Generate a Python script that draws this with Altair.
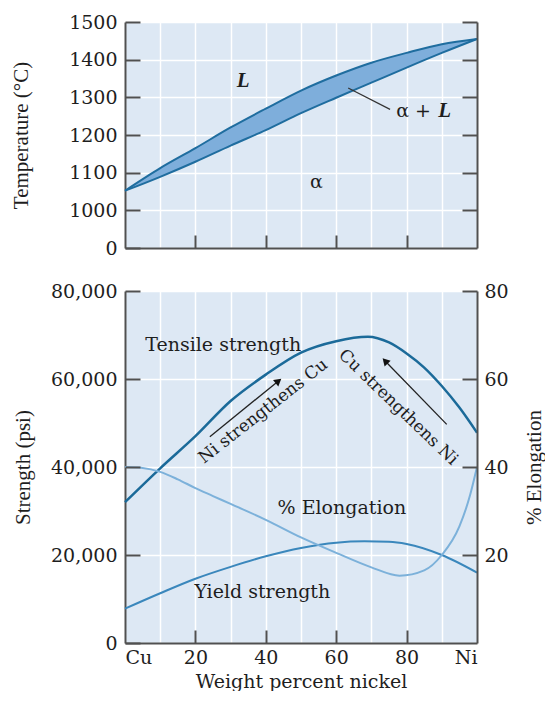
import altair as alt
import pandas as pd

# ---------------- data ----------------
# Top panel: Cu-Ni phase diagram
ni_top = [0, 10, 20, 30, 40, 50, 60, 70, 80, 90, 100]
liquidus = [1052, 1112, 1165, 1220, 1270, 1318, 1358, 1392, 1418, 1441, 1455]
solidus = [1052, 1089, 1129, 1172, 1213, 1258, 1299, 1339, 1379, 1418, 1455]

# Bottom panel: mechanical properties
tens_ni = [0, 10, 20, 30, 40, 50, 60, 69, 75, 80, 85, 90, 95, 100]
tensile = [32000, 39700, 47000, 55000, 61000, 66000, 68600, 69600, 68300, 65800, 62600, 58400, 53500, 47800]

yield_ni = [0, 10, 20, 30, 40, 50, 60, 68, 75, 80, 90, 100]
yield_str = [7800, 11300, 14600, 17300, 19700, 21600, 22800, 23100, 23000, 22500, 20000, 16000]

elong_ni = [0, 5, 10, 15, 20, 25, 30, 40, 50, 60, 70, 78, 85, 90, 95, 98, 100]
elong = [40, 39.8, 38.9, 37.2, 35.2, 33.4, 31.6, 28, 24, 20.5, 17.2, 15.3, 16.5, 20, 26.5, 33.5, 40]

# axis values
grid_x = [0, 10, 20, 30, 40, 50, 60, 70, 80, 90, 100]
tick_x = [20, 40, 60, 80]
label_x = [0, 20, 40, 60, 80, 100]
temp_vals = [900, 1000, 1100, 1200, 1300, 1400, 1500]
str_vals = [0, 20000, 40000, 60000, 80000]
el_vals = [20, 40, 60, 80]

# annotations (top)
top_txt = ["\u03b1", "\u03b1 +"]
top_txt_x = [54.4, 82.0]
top_txt_y = [1074, 1263]
top_it = ["L", "L"]
top_it_x = [33.6, 90.8]
top_it_y = [1343, 1263]
leader_x = [63.4, 75.3]
leader_y = [1325, 1268]

# annotations (bottom)
bot_txt = ["Tensile strength", "% Elongation", "Yield strength"]
bot_txt_x = [27.9, 61.6, 39.0]
bot_txt_y = [67700, 30700, 11700]
rot_txt = ["Ni strengthens Cu", "Cu strengthens Ni"]
rot_x = [39.3, 77.6]
rot_y = [52650, 53560]
rot_angle = [322, 44]
arr_x0 = [24.1, 91.4]
arr_y0 = [46900, 49690]
arr_x1 = [43.6, 73.9]
arr_y1 = [59560, 64100]
arr_angle = [51, 316]

# ---------------- styles ----------------
AX = "#505050"
LBL = "#1e1e1e"
BG = "#dde8f4"
LENS = "#7eaedb"
EDGE = "#1f6d9f"
C_TENS = "#1b6a99"
C_EL = "#7cb1da"
C_YLD = "#3a87bc"
SERIF = "DejaVu Serif"
TSERIF = "Liberation Serif"


def xs():
    return alt.Scale(domain=[0, 100], nice=False, zero=False)


def ys_top():
    return alt.Scale(domain=[900, 1500], nice=False, zero=False)


def ys_str():
    return alt.Scale(domain=[0, 80000], nice=False, zero=False)


def ys_el():
    return alt.Scale(domain=[0, 80], nice=False, zero=False)


def white_grid_axis(orient, values):
    return alt.Axis(orient=orient, values=values, grid=True, gridColor="white",
                    gridWidth=1.5, gridOpacity=1, labels=False, ticks=False,
                    domain=True, domainColor=AX, domainWidth=2, title=None)


def tick_axis(orient, values, length, domain=False, **kw):
    return alt.Axis(orient=orient, values=values, grid=True, gridColor=AX,
                    gridWidth=2, gridDash=[length, 2000], gridOpacity=1,
                    ticks=False, domain=domain, domainColor=AX, domainWidth=2,
                    zindex=1, **kw)


# ---------------- top panel ----------------
df_top = pd.DataFrame({"ni": ni_top, "liq": liquidus, "sol": solidus})
base_top = alt.Chart(df_top)

lens = base_top.mark_area(color=LENS, opacity=1, interpolate="monotone").encode(
    x=alt.X("ni:Q", scale=xs(), axis=white_grid_axis("bottom", grid_x)),
    y=alt.Y("liq:Q", scale=ys_top(), axis=white_grid_axis("left", temp_vals)),
    y2="sol:Q",
)
liq_line = base_top.mark_line(color=EDGE, strokeWidth=2, interpolate="monotone").encode(
    x=alt.X("ni:Q", scale=xs(), axis=tick_axis("top", tick_x, 13, labels=False, title=None)),
    y=alt.Y("liq:Q", scale=ys_top(), axis=tick_axis(
        "left", temp_vals, 15, labels=True, format="d",
        labelExpr="datum.value == 900 ? '0' : datum.label",
        labelPadding=8, title="Temperature (\u00b0C)", titleFont=TSERIF,
        titleFontSize=21, titlePadding=37)),
)
sol_line = base_top.mark_line(color=EDGE, strokeWidth=2, interpolate="monotone").encode(
    x=alt.X("ni:Q", scale=xs(), axis=None),
    y=alt.Y("sol:Q", scale=ys_top(), axis=tick_axis("right", temp_vals[1:], 15, domain=True,
                                                    labels=False, title=None)),
)
leader = alt.Chart(pd.DataFrame({"x": leader_x, "y": leader_y})).mark_line(
    color="#333333", strokeWidth=1.2).encode(
    x=alt.X("x:Q", scale=xs(), axis=None), y=alt.Y("y:Q", scale=ys_top(), axis=None))
top_t1 = alt.Chart(pd.DataFrame({"x": top_txt_x, "y": top_txt_y, "t": top_txt})).mark_text(
    font=SERIF, fontSize=19, color=LBL, baseline="middle").encode(
    x=alt.X("x:Q", scale=xs(), axis=None), y=alt.Y("y:Q", scale=ys_top(), axis=None), text="t:N")
top_t2 = alt.Chart(pd.DataFrame({"x": top_it_x, "y": top_it_y, "t": top_it})).mark_text(
    font=TSERIF, fontSize=21, fontStyle="italic", fontWeight="bold", color=LBL,
    baseline="middle").encode(
    x=alt.X("x:Q", scale=xs(), axis=None), y=alt.Y("y:Q", scale=ys_top(), axis=None), text="t:N")

top = alt.layer(lens, liq_line, sol_line, leader, top_t1, top_t2).properties(width=352, height=226)

# ---------------- bottom panel ----------------
df_t = pd.DataFrame({"ni": tens_ni, "v": tensile})
df_y = pd.DataFrame({"ni": yield_ni, "v": yield_str})
df_e = pd.DataFrame({"ni": elong_ni, "v": elong})

tens_line = alt.Chart(df_t).mark_line(color=C_TENS, strokeWidth=2.5, interpolate="monotone").encode(
    x=alt.X("ni:Q", scale=xs(), axis=white_grid_axis("bottom", grid_x)),
    y=alt.Y("v:Q", scale=ys_str(), axis=white_grid_axis("left", str_vals)),
)
yield_line = alt.Chart(df_y).mark_line(color=C_YLD, strokeWidth=2, interpolate="monotone").encode(
    x=alt.X("ni:Q", scale=xs(), axis=alt.Axis(
        orient="bottom", values=label_x, grid=False, ticks=False, domain=False,
        labelExpr="datum.value == 0 ? 'Cu' : (datum.value == 100 ? 'Ni' : datum.label)",
        labelPadding=5, title="Weight percent nickel", titleFont=SERIF,
        titleFontSize=19, titlePadding=5)),
    y=alt.Y("v:Q", scale=ys_str(), axis=tick_axis(
        "left", str_vals, 15, labels=True, format=",.0f", labelPadding=8,
        title="Strength (psi)", titleFont=TSERIF, titleFontSize=21, titlePadding=17)),
)
bt = alt.Chart(pd.DataFrame({"x": bot_txt_x, "y": bot_txt_y, "t": bot_txt})).mark_text(
    font=SERIF, fontSize=19, color=LBL, baseline="middle").encode(
    x=alt.X("x:Q", scale=xs(), axis=None), y=alt.Y("y:Q", scale=ys_str(), axis=None), text="t:N")
rt = alt.Chart(pd.DataFrame({"x": rot_x, "y": rot_y, "t": rot_txt, "a": rot_angle})).mark_text(
    font=SERIF, fontSize=17, color=LBL, baseline="middle").encode(
    x=alt.X("x:Q", scale=xs(), axis=None), y=alt.Y("y:Q", scale=ys_str(), axis=None),
    text="t:N", angle=alt.Angle("a:Q", scale=None))
df_arr = pd.DataFrame({"x0": arr_x0, "y0": arr_y0, "x1": arr_x1, "y1": arr_y1, "a": arr_angle})
shaft = alt.Chart(df_arr).mark_rule(color="#222222", strokeWidth=1.3).encode(
    x=alt.X("x0:Q", scale=xs(), axis=None), y=alt.Y("y0:Q", scale=ys_str(), axis=None),
    x2="x1:Q", y2="y1:Q")
head = alt.Chart(df_arr).mark_point(shape="triangle-up", filled=True, color="#111111",
                                    size=70, opacity=1).encode(
    x=alt.X("x1:Q", scale=xs(), axis=None), y=alt.Y("y1:Q", scale=ys_str(), axis=None),
    angle=alt.Angle("a:Q", scale=None))

el_line = alt.Chart(df_e).mark_line(color=C_EL, strokeWidth=2, interpolate="monotone").encode(
    x=alt.X("ni:Q", scale=xs(), axis=tick_axis("top", tick_x, 13, labels=False, title=None)),
    y=alt.Y("v:Q", scale=ys_el(), axis=tick_axis(
        "right", el_vals, 15, domain=True, labels=True, labelPadding=7,
        title="% Elongation", titleFont=TSERIF, titleFontSize=21, titleAngle=270,
        titlePadding=36)),
)

bottom = alt.layer(tens_line, yield_line, el_line, bt, rt, shaft, head).resolve_scale(
    y="independent").properties(width=352, height=352)

chart = alt.vconcat(top, bottom, spacing=43, bounds="flush").properties(
    padding={"left": 2, "top": 5, "right": 0, "bottom": 0}
).configure_view(fill=BG, stroke=None).configure_axis(
    labelFont=SERIF, labelFontSize=19, labelColor=LBL, titleFontWeight="normal",
    titleColor=LBL
)

chart.save("out.html", embed_options={"renderer": "svg", "actions": False})
